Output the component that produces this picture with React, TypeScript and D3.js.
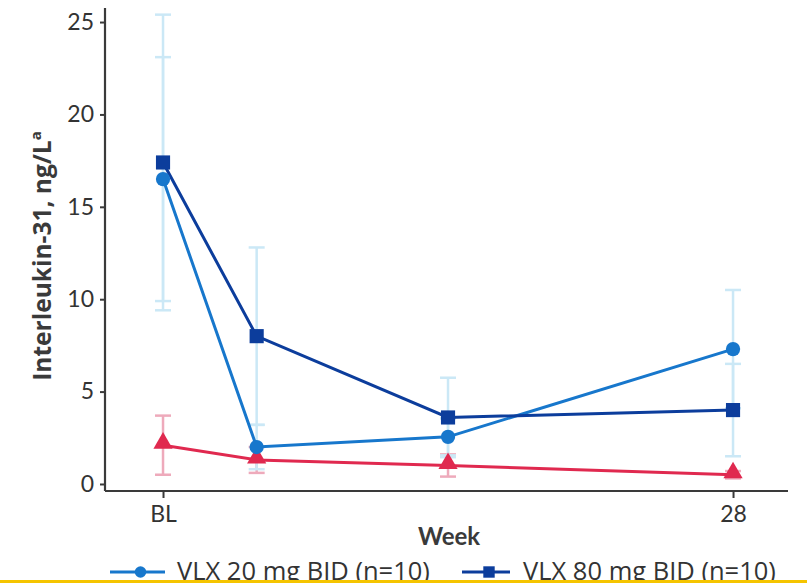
import React, { useEffect, useRef } from 'react';
import * as d3 from 'd3';

// weeks since baseline (x positions)
const weeks = [0, 4.6, 14, 28];
const xTickValues = [0, 28];
const xTickLabels = ['BL', '28'];
const yTickValues = [0, 5, 10, 15, 20, 25];

const seriesNames = ['VLX 20 mg BID (n=10)', 'VLX 80 mg BID (n=10)', 'Placebo'];

const vlx20Mean = [16.5, 2.0, 2.55, 7.3];
const vlx20Err = [6.6, 1.2, 1.0, 3.2];
const vlx80Mean = [17.4, 8.0, 3.6, 4.0];
const vlx80Err = [8.0, 4.8, 2.15, 2.5];
const placeboMean = [2.1, 1.3, 1.0, 0.5];
const placeboErr = [1.6, 0.7, 0.6, 0.2];

interface Point {
  week: number;
  mean: number;
  err: number;
}

const FONT = 'Lato, "Open Sans", sans-serif';
const LEGEND_FONT = '"Open Sans", Lato, sans-serif';

export default function App() {
  const svgRef = useRef<SVGSVGElement | null>(null);

  useEffect(() => {
    if (!svgRef.current) return;
    const width = 807;
    const height = 583;

    const svg = d3.select(svgRef.current);
    svg.selectAll('*').remove();
    svg.attr('width', width).attr('height', height);

    svg.append('rect').attr('width', width).attr('height', height).attr('fill', '#ffffff');

    const xScale = d3.scaleLinear().domain([-2.85, 30.7]).range([105, 788]);
    const yScale = d3.scaleLinear().domain([-0.38, 25.76]).range([491, 8]);

    const build = (means: number[], errs: number[]): Point[] =>
      weeks.map((w, i) => ({ week: w, mean: means[i], err: errs[i] }));

    const series = [
      { name: seriesNames[0], data: build(vlx20Mean, vlx20Err), color: '#1777cc', errColor: '#cbe8f6', shape: 'circle' },
      { name: seriesNames[1], data: build(vlx80Mean, vlx80Err), color: '#0c3d9c', errColor: '#cbe8f6', shape: 'square' },
      { name: seriesNames[2], data: build(placeboMean, placeboErr), color: '#e0294f', errColor: '#eeaabb', shape: 'triangle' },
    ];
    const drawOrder = [series[2], series[0], series[1]];

    // error bars first (behind)
    const errLayer = svg.append('g');
    drawOrder.forEach((s) => {
      const g = errLayer.append('g').attr('stroke', s.errColor).attr('stroke-width', 2.5).attr('fill', 'none');
      g.selectAll('line.v')
        .data(s.data)
        .enter()
        .append('line')
        .attr('x1', (d) => xScale(d.week))
        .attr('x2', (d) => xScale(d.week))
        .attr('y1', (d) => yScale(d.mean + d.err))
        .attr('y2', (d) => yScale(Math.max(d.mean - d.err, 0)));
      ['hi', 'lo'].forEach((k) => {
        g.selectAll(`line.${k}`)
          .data(s.data)
          .enter()
          .append('line')
          .attr('x1', (d) => xScale(d.week) - 8)
          .attr('x2', (d) => xScale(d.week) + 8)
          .attr('y1', (d) => yScale(k === 'hi' ? d.mean + d.err : Math.max(d.mean - d.err, 0)))
          .attr('y2', (d) => yScale(k === 'hi' ? d.mean + d.err : Math.max(d.mean - d.err, 0)));
      });
    });

    // axes
    const yAxis = d3.axisLeft(yScale).tickValues(yTickValues).tickSize(5).tickSizeOuter(0).tickPadding(6);
    const gy = svg.append('g').attr('transform', 'translate(105,0)').call(yAxis);
    const xAxis = d3
      .axisBottom(xScale)
      .tickValues(xTickValues)
      .tickSize(7)
      .tickSizeOuter(0)
      .tickPadding(8)
      .tickFormat((d, i) => xTickLabels[i]);
    const gx = svg.append('g').attr('transform', 'translate(0,491)').call(xAxis);

    [gx, gy].forEach((g) => {
      g.selectAll('.domain').attr('stroke', '#3a3a3a').attr('stroke-width', 2.2);
      g.selectAll('.tick line').attr('stroke', '#3a3a3a').attr('stroke-width', 2);
      g.selectAll('.tick text')
        .attr('fill', '#333333')
        .style('font-size', '23px')
        .style('font-family', FONT);
    });
    gy.select('.domain').attr('d', `M0,491V8`);
    gx.select('.domain').attr('d', `M105,0H788`);

    // lines
    const line = d3
      .line<Point>()
      .x((d) => xScale(d.week))
      .y((d) => yScale(d.mean));

    const symbolFor = (shape: string, size: number) =>
      d3
        .symbol()
        .type(shape === 'circle' ? d3.symbolCircle : shape === 'square' ? d3.symbolSquare : d3.symbolTriangle)
        .size(size)();

    const sizeFor = (shape: string) => (shape === 'circle' ? 160 : shape === 'square' ? 200 : 160);

    drawOrder.forEach((s) => {
      svg
        .append('path')
        .datum(s.data)
        .attr('fill', 'none')
        .attr('stroke', s.color)
        .attr('stroke-width', 3)
        .attr('d', line);
    });
    drawOrder.forEach((s) => {
      svg
        .append('g')
        .selectAll('path')
        .data(s.data)
        .enter()
        .append('path')
        .attr('transform', (d) => `translate(${xScale(d.week)},${yScale(d.mean) + (s.shape === 'triangle' ? -2 : 0)})`)
        .attr('d', symbolFor(s.shape, sizeFor(s.shape)))
        .attr('fill', s.color);
    });

    // axis titles
    svg
      .append('text')
      .attr('transform', `translate(51,256) rotate(-90)`)
      .attr('text-anchor', 'middle')
      .attr('fill', '#3a3a3a')
      .style('font-family', LEGEND_FONT)
      .style('font-weight', 'bold')
      .style('font-size', '24.5px')
      .call((t) => {
        t.append('tspan').text('Interleukin-31, ng/L');
        t.append('tspan').attr('dy', -10).style('font-size', '15px').text('a');
      });

    svg
      .append('text')
      .attr('x', 449)
      .attr('y', 545)
      .attr('text-anchor', 'middle')
      .attr('fill', '#3a3a3a')
      .style('font-family', FONT)
      .style('font-weight', 'bold')
      .style('font-size', '24px')
      .text('Week');

    // legend
    const legendItems = [
      { s: series[0], x: 110, len: 55, tx: 67 },
      { s: series[1], x: 462, len: 48, tx: 61 },
    ];
    legendItems.forEach(({ s, x, len, tx }) => {
      const g = svg.append('g').attr('transform', `translate(${x},572)`);
      g.append('line').attr('x1', 0).attr('x2', len).attr('stroke', s.color).attr('stroke-width', 3);
      g.append('path')
        .attr('transform', `translate(${len / 2 + 3},0)`)
        .attr('d', symbolFor(s.shape, sizeFor(s.shape) * 0.65))
        .attr('fill', s.color);
      g.append('text')
        .attr('x', tx)
        .attr('y', 8)
        .attr('fill', '#333333')
        .style('font-family', LEGEND_FONT)
        .style('font-size', '25.5px')
        .text(s.name);
    });

    // bottom highlight strip
    svg.append('rect').attr('x', 0).attr('y', 580).attr('width', width).attr('height', 3).attr('fill', '#f5c400');
  }, []);

  return <svg ref={svgRef} style={{ position: 'absolute', left: 0, top: 0, display: 'block' }} />;
}
